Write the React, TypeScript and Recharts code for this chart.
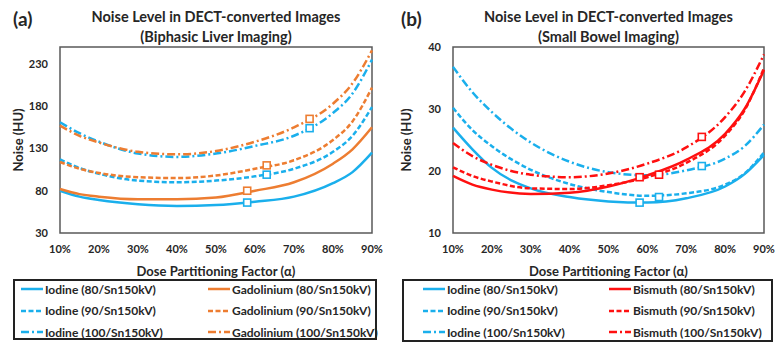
import React from "react";
import { ComposedChart, Line, Scatter, XAxis, YAxis, ReferenceArea } from "recharts";

// dose partitioning factor, %
const alpha = [10, 15, 20, 30, 40, 50, 60, 70, 80, 85, 90];

// (a) biphasic liver imaging, noise in HU
const iodine80Liver = [80, 73, 69, 64, 62, 63, 67, 73, 89, 102, 125];
const iodine90Liver = [117, 107, 100, 92, 90, 92, 97, 106, 126, 145, 179];
const iodine100Liver = [161, 148, 138, 124, 120, 124, 133, 145, 172, 195, 235];
const gado80Liver = [82, 76, 73, 70, 70, 72, 80, 90, 112, 129, 155];
const gado90Liver = [114, 106, 101, 96, 95, 98, 106, 116, 140, 162, 202];
const gado100Liver = [157, 145, 137, 126, 123, 127, 138, 155, 183, 207, 246];

// (b) small bowel imaging, noise in HU
const iodine80Bowel = [27, 23.5, 20.5, 17.2, 15.8, 15.1, 14.9, 15.6, 17.5, 19.5, 22.6];
const iodine90Bowel = [30.2, 26.6, 24, 20.2, 17.9, 16.6, 16, 16.4, 17.8, 19.6, 23];
const iodine100Bowel = [36.8, 32.7, 29.5, 24.6, 21.5, 19.8, 19.3, 20.1, 22, 24, 27.5];
const bismuth80Bowel = [19.2, 17.8, 17, 16.3, 16.5, 17.5, 19.3, 21.8, 26, 30, 36.3];
const bismuth90Bowel = [20.6, 19.2, 18.3, 17.2, 17.1, 17.7, 19, 21.3, 25.7, 29.8, 36.6];
const bismuth100Bowel = [24.5, 22.4, 21, 19.4, 19, 19.6, 21.2, 23.8, 28.7, 32.8, 38.8];

// optimal alpha markers (80, 90, 100 kV)
const markerAlpha = [58, 63, 74];
const iodineLiverMarks = [66, 99, 154];
const gadoLiverMarks = [80, 110, 165];
const iodineBowelMarks = [14.9, 15.8, 20.8];
const bismuthBowelMarks = [19.0, 19.4, 25.5];

const xTicks = [10, 20, 30, 40, 50, 60, 70, 80, 90];
const liverTicks = [30, 80, 130, 180, 230];
const bowelTicks = [10, 20, 30, 40];

const BLUE = "#1AAFEC";
const ORANGE = "#ED7D31";
const RED = "#FF1010";
const FONT = "Lato, 'Open Sans', sans-serif";
const TEXT = "#262626";

const DASHES = ["", "5 2.5", "8 3 2 3"];
const KV = ["80", "90", "100"];

interface Series {
  name: string;
  values: number[];
  marks: number[];
  color: string;
}

function buildRows(series: Series[]) {
  return alpha.map((a, i) => {
    const row: Record<string, number> = { a };
    series.forEach((s, j) => (row["s" + j] = s.values[i]));
    return row;
  });
}

const Square = (props: any) => {
  const { cx, cy, fill } = props;
  return <rect x={cx - 3.5} y={cy - 3.5} width={7} height={7} fill="#fff" stroke={fill} strokeWidth={1.6} />;
};

interface PanelProps {
  left: number;
  letter: string;
  subtitle: string;
  domain: [number, number];
  ticks: number[];
  series: Series[];
  yWidth: number;
  rightMargin: number;
  legend: { left: number; width: number; height: number; sym: number; sym2: number };
}

function Panel({ left, letter, subtitle, domain, ticks, series, yWidth, rightMargin, legend }: PanelProps) {
  const rows = buildRows(series);
  const plotLeft = left + yWidth;
  const plotRight = left + 388 - rightMargin;
  const mid = (plotLeft + plotRight) / 2;
  return (
    <>
      <div style={{ position: "absolute", left: left + 13, top: 7, fontSize: 19, fontWeight: 700, color: TEXT }}>
        ({letter})
      </div>
      <div
        style={{
          position: "absolute",
          left: mid - 160,
          width: 320,
          top: 7,
          textAlign: "center",
          fontSize: 14.5,
          lineHeight: "20px",
          fontWeight: 700,
          color: TEXT,
        }}
      >
        Noise Level in DECT-converted Images
        <br />({subtitle})
      </div>
      <div
        style={{
          position: "absolute",
          left: left + 18 - 60,
          top: 140 - 9,
          width: 120,
          height: 18,
          lineHeight: "18px",
          textAlign: "center",
          transform: "rotate(-90deg)",
          fontSize: 13,
          fontWeight: 700,
          color: TEXT,
        }}
      >
        Noise (HU)
      </div>
      <div
        style={{
          position: "absolute",
          left: mid - 120,
          width: 240,
          top: 262,
          textAlign: "center",
          fontSize: 13,
          lineHeight: "18px",
          fontWeight: 700,
          color: TEXT,
        }}
      >
        Dose Partitioning Factor (α)
      </div>
      <div style={{ position: "absolute", left, top: 0 }}>
        <ComposedChart width={388} height={262} data={rows} margin={{ top: 47, right: rightMargin, bottom: 5, left: 0 }}>
          <XAxis
            dataKey="a"
            type="number"
            domain={[10, 90]}
            ticks={xTicks}
            tickFormatter={(v) => `${v}%`}
            axisLine={false}
            tickLine={false}
            tickSize={6}
            tickMargin={6}
            height={24}
            interval={0}
            tick={{ fontSize: 11, fontWeight: 700, fill: TEXT, fontFamily: FONT }}
          />
          <YAxis
            type="number"
            domain={domain}
            ticks={ticks}
            axisLine={false}
            tickLine={false}
            tickSize={6}
            tickMargin={6}
            width={yWidth}
            interval={0}
            tick={{ fontSize: 11, fontWeight: 700, fill: TEXT, fontFamily: FONT }}
          />
          <ReferenceArea x1={10} x2={90} y1={domain[0]} y2={domain[1]} fill="none" stroke="#595959" strokeWidth={1.5} ifOverflow="visible" />
          {series.map((s, j) => (
            <Line
              key={s.name}
              dataKey={"s" + j}
              type="monotone"
              stroke={s.color}
              strokeWidth={2.5}
              strokeDasharray={DASHES[j % 3]}
              dot={false}
              isAnimationActive={false}
            />
          ))}
          {series.map((s, j) => (
            <Scatter
              key={s.name + "-m"}
              data={[{ a: markerAlpha[j % 3], v: s.marks[j % 3] }]}
              dataKey="v"
              fill={s.color}
              shape={Square}
              isAnimationActive={false}
            />
          ))}
        </ComposedChart>
      </div>
      <div
        style={{
          position: "absolute",
          left: legend.left,
          top: 279,
          width: legend.width,
          height: legend.height,
          border: "2px solid #222",
          boxSizing: "border-box",
        }}
      >
        {series.map((s, j) => {
          const col = Math.floor(j / 3);
          const row = j % 3;
          return (
            <div
              key={s.name}
              style={{
                position: "absolute",
                left: col === 0 ? legend.sym : legend.sym2,
                top: -1 + row * 21.5,
                height: 18,
                display: "flex",
                alignItems: "center",
                whiteSpace: "nowrap",
                fontSize: 12,
                fontWeight: 700,
                color: TEXT,
              }}
            >
              <svg width={22} height={6} style={{ marginRight: 2 }}>
                <line x1={0} y1={3} x2={22} y2={3} stroke={s.color} strokeWidth={2.5} strokeDasharray={DASHES[row]} />
              </svg>
              {s.name}
            </div>
          );
        })}
      </div>
    </>
  );
}

const liverSeries: Series[] = [
  { name: `Iodine (${KV[0]}/Sn150kV)`, values: iodine80Liver, marks: iodineLiverMarks, color: BLUE },
  { name: `Iodine (${KV[1]}/Sn150kV)`, values: iodine90Liver, marks: iodineLiverMarks, color: BLUE },
  { name: `Iodine (${KV[2]}/Sn150kV)`, values: iodine100Liver, marks: iodineLiverMarks, color: BLUE },
  { name: `Gadolinium (${KV[0]}/Sn150kV)`, values: gado80Liver, marks: gadoLiverMarks, color: ORANGE },
  { name: `Gadolinium (${KV[1]}/Sn150kV)`, values: gado90Liver, marks: gadoLiverMarks, color: ORANGE },
  { name: `Gadolinium (${KV[2]}/Sn150kV)`, values: gado100Liver, marks: gadoLiverMarks, color: ORANGE },
];

const bowelSeries: Series[] = [
  { name: `Iodine (${KV[0]}/Sn150kV)`, values: iodine80Bowel, marks: iodineBowelMarks, color: BLUE },
  { name: `Iodine (${KV[1]}/Sn150kV)`, values: iodine90Bowel, marks: iodineBowelMarks, color: BLUE },
  { name: `Iodine (${KV[2]}/Sn150kV)`, values: iodine100Bowel, marks: iodineBowelMarks, color: BLUE },
  { name: `Bismuth (${KV[0]}/Sn150kV)`, values: bismuth80Bowel, marks: bismuthBowelMarks, color: RED },
  { name: `Bismuth (${KV[1]}/Sn150kV)`, values: bismuth90Bowel, marks: bismuthBowelMarks, color: RED },
  { name: `Bismuth (${KV[2]}/Sn150kV)`, values: bismuth100Bowel, marks: bismuthBowelMarks, color: RED },
];

export default function App() {
  return (
    <div
      style={{
        position: "absolute",
        left: 0,
        top: 0,
        width: 776,
        height: 349,
        background: "#fff",
        fontFamily: FONT,
        overflow: "hidden",
      }}
    >
      <Panel
        left={0}
        letter="a"
        subtitle="Biphasic Liver Imaging"
        domain={[30, 250]}
        ticks={liverTicks}
        series={liverSeries}
        yWidth={60}
        rightMargin={16}
        legend={{ left: 13, width: 364, height: 61, sym: 6, sym2: 193 }}
      />
      <Panel
        left={388}
        letter="b"
        subtitle="Small Bowel Imaging"
        domain={[10, 40]}
        ticks={bowelTicks}
        series={bowelSeries}
        yWidth={65}
        rightMargin={12}
        legend={{ left: 402, width: 371, height: 63, sym: 19, sym2: 205 }}
      />
    </div>
  );
}
